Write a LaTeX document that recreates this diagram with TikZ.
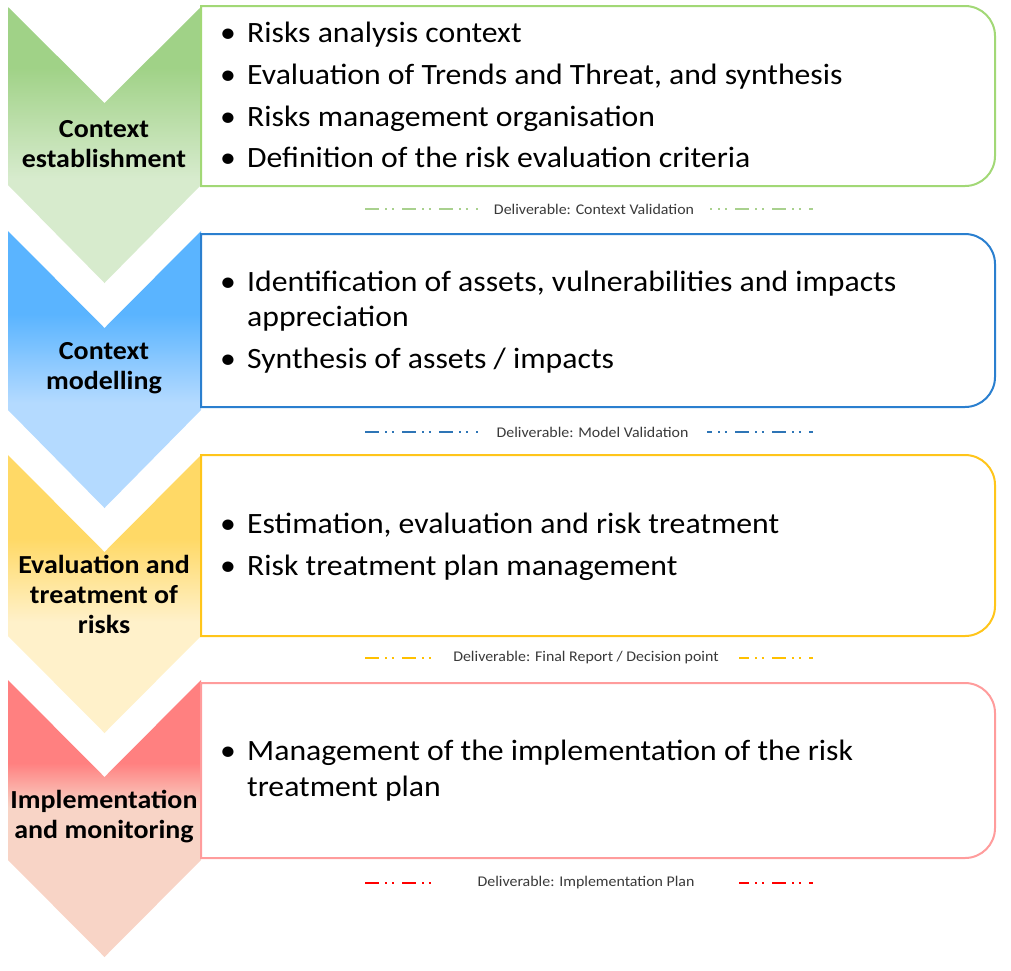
\documentclass[tikz,border=0pt]{standalone}
\usepackage{fontspec}
\setmainfont{Carlito}
\newfontfamily\wideface[FakeStretch=1.075]{Carlito}
\definecolor{gTop}{HTML}{A0D287}
\definecolor{gBot}{HTML}{D7EBCD}
\definecolor{bTop}{HTML}{5AB4FF}
\definecolor{bBot}{HTML}{B4DAFF}
\definecolor{yTop}{HTML}{FFD966}
\definecolor{yBot}{HTML}{FFF1CA}
\definecolor{rTop}{HTML}{FF8080}
\definecolor{rBot}{HTML}{F8D4C6}
\definecolor{gLine}{HTML}{A2D876}
\definecolor{bLine}{HTML}{2A7FCF}
\definecolor{yLine}{HTML}{FFC51A}
\definecolor{rLine}{HTML}{FF9C9C}
\definecolor{gDash}{HTML}{A9D18E}
\definecolor{bDash}{HTML}{2E75B6}
\definecolor{yDash}{HTML}{FFC000}
\definecolor{rDash}{HTML}{FF0000}
\definecolor{delText}{HTML}{3A3A3A}
\pgfdeclareverticalshading{shG}{100bp}{color(0bp)=(gBot); color(44bp)=(gBot); color(64bp)=(gTop); color(100bp)=(gTop)}
\pgfdeclareverticalshading{shB}{100bp}{color(0bp)=(bBot); color(44bp)=(bBot); color(60bp)=(bTop); color(100bp)=(bTop)}
\pgfdeclareverticalshading{shY}{100bp}{color(0bp)=(yBot); color(45bp)=(yBot); color(60bp)=(yTop); color(100bp)=(yTop)}
\pgfdeclareverticalshading{shR}{100bp}{color(0bp)=(rBot); color(52bp)=(rBot); color(60bp)=(rTop); color(100bp)=(rTop)}
\tikzset{
  bodytext/.style={anchor=base west, inner sep=0pt, font=\wideface\fontsize{29.5}{35}\selectfont, text=black},
  bul/.style={anchor=base west, inner sep=0pt, font=\wideface\fontsize{29.5}{35}\selectfont, text=black},
  chevlab/.style={align=center, inner sep=0pt, font=\wideface\bfseries\fontsize{26}{30}\selectfont, text=black},
  deltext/.style={fill=white, inner xsep=0pt, inner ysep=2pt, font=\wideface\fontsize{14.8}{17}\selectfont, text=delText},
  delline/.style={line width=2.2pt, dash pattern=on 14pt off 6pt on 1.8pt off 5pt on 1.8pt off 8.4pt},
  boxline/.style={line width=2pt},
}
\begin{document}
\begin{tikzpicture}[x=1pt,y=-1pt]
\useasboundingbox (0,0) rectangle (1011,970);
% chevrons
\shade[shading=shG] (8,7) -- (104.5,103) -- (201,7) -- (201,185) -- (104.5,283) -- (8,185) -- cycle;
\shade[shading=shB] (8,231) -- (104.5,328) -- (201,231) -- (201,410) -- (104.5,508) -- (8,410) -- cycle;
\shade[shading=shY] (8,455) -- (104.5,552) -- (201,455) -- (201,636) -- (104.5,733) -- (8,636) -- cycle;
\shade[shading=shR] (8,680) -- (104.5,777) -- (201,680) -- (201,860) -- (104.5,957) -- (8,860) -- cycle;
% boxes
\draw[boxline, gLine] (201,186) -- (201,6) -- (965,6) arc[start angle=90, end angle=0, radius=30pt] -- (995,156) arc[start angle=0, end angle=-90, radius=30pt] -- cycle;
\draw[boxline, bLine] (201,407) -- (201,234) -- (965,234) arc[start angle=90, end angle=0, radius=30pt] -- (995,377) arc[start angle=0, end angle=-90, radius=30pt] -- cycle;
\draw[boxline, yLine] (201,636) -- (201,455) -- (965,455) arc[start angle=90, end angle=0, radius=30pt] -- (995,606) arc[start angle=0, end angle=-90, radius=30pt] -- cycle;
\draw[boxline, rLine] (201,858) -- (201,683) -- (965,683) arc[start angle=90, end angle=0, radius=30pt] -- (995,828) arc[start angle=0, end angle=-90, radius=30pt] -- cycle;
% chevron labels
\node[chevlab] (c1) at (104,144) {Context\\establishment};
\node[chevlab] (c2) at (104,368) {Context\\modelling};
\node[chevlab] (c3) at (104,594) {Evaluation and\\treatment of\\risks};
\node[chevlab] (c4) at (104,817) {Implementation\\and monitoring};
% green bullets
\node[bul] (gb1) at (220,42) {•};
\node[bodytext] (gt1) at (247,42) {Risks analysis context};
\node[bul] (gb2) at (220,84) {•};
\node[bodytext] (gt2) at (247,84) {Evaluation of Trends and Threat, and synthesis};
\node[bul] (gb3) at (220,126) {•};
\node[bodytext] (gt3) at (247,126) {Risks management organisation};
\node[bul] (gb4) at (220,167) {•};
\node[bodytext] (gt4) at (247,167) {Definition of the risk evaluation criteria};
% blue bullets
\node[bul] (bb1) at (220,291) {•};
\node[bodytext] (bt1) at (247,291) {Identification of assets, vulnerabilities and impacts};
\node[bodytext] (bt1b) at (247,326) {appreciation};
\node[bul] (bb2) at (220,368) {•};
\node[bodytext] (bt2) at (247,368) {Synthesis of assets / impacts};
% yellow bullets
\node[bul] (yb1) at (220,533) {•};
\node[bodytext] (yt1) at (247,533) {Estimation, evaluation and risk treatment};
\node[bul] (yb2) at (220,575) {•};
\node[bodytext] (yt2) at (247,575) {Risk treatment plan management};
% red bullets
\node[bul] (rb1) at (220,760) {•};
\node[bodytext] (rt1) at (247,760) {Management of the implementation of the risk};
\node[bodytext] (rt1b) at (247,796) {treatment plan};
% deliverables
\coordinate (d1a) at (365,209); \coordinate (d1b) at (813,209);
\draw[delline, gDash] (d1a) -- (d1b);
\node[deltext, minimum width=232pt] (d1) at (594,209) {Deliverable: Context Validation};
\coordinate (d2a) at (365,432); \coordinate (d2b) at (813,432);
\draw[delline, bDash] (d2a) -- (d2b);
\node[deltext, minimum width=229pt] (d2) at (592.5,432) {Deliverable: Model Validation};
\coordinate (d3a) at (365,658); \coordinate (d3b) at (813,658);
\draw[delline, yDash] (d3a) -- (d3b);
\node[deltext, minimum width=305pt] (d3) at (586,658) {Deliverable: Final Report / Decision point};
\coordinate (d4a) at (365,883); \coordinate (d4b) at (813,883);
\draw[delline, rDash] (d4a) -- (d4b);
\node[deltext, minimum width=305pt] (d4) at (586,883) {Deliverable: Implementation Plan};
\end{tikzpicture}
\end{document}
